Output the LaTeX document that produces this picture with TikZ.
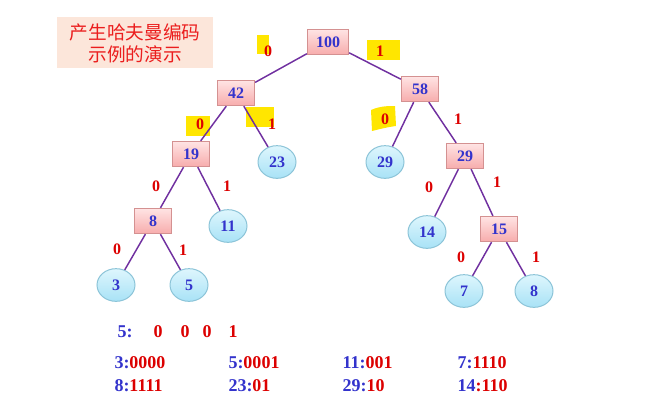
\documentclass[tikz,border=0pt]{standalone}
\usepackage{fontspec}
\setmainfont{Liberation Serif}
\newfontfamily\cjk{Noto Sans CJK SC}
\usetikzlibrary{shapes.geometric}
\definecolor{numblue}{RGB}{51,51,204}
\definecolor{bitred}{RGB}{220,0,0}
\definecolor{titlered}{RGB}{235,30,30}
\definecolor{edgepurple}{RGB}{112,48,160}
\definecolor{hlyellow}{RGB}{255,230,0}
\definecolor{titlebg}{RGB}{252,230,218}
\newcommand{\hcode}[2]{\textcolor{numblue}{#1:}\textcolor{bitred}{#2}}

\tikzset{every picture/.style={line width=0.75pt}}
\tikzset{
  inner/.style={rectangle, draw={rgb,255:red,212;green,145;blue,145}, top color={rgb,255:red,255;green,228;blue,228}, bottom color={rgb,255:red,247;green,172;blue,172}, minimum width=28pt, minimum height=19pt, inner sep=2pt, font=\fontsize{12}{14}\selectfont\bfseries, text=numblue},
  leaf/.style={ellipse, draw={rgb,255:red,140;green,196;blue,216}, top color={rgb,255:red,222;green,246;blue,253}, bottom color={rgb,255:red,168;green,226;blue,246}, minimum width=28.5pt, minimum height=24.5pt, inner sep=1pt, font=\fontsize{12}{14}\selectfont\bfseries, text=numblue},
  bit/.style={inner sep=0.75pt, font=\fontsize{12}{14}\selectfont\bfseries, text=bitred},
  branch/.style={draw=edgepurple, line width=1.1pt},
  hl/.style={fill=hlyellow},
  codeline/.style={anchor=west, inner sep=0pt, font=\fontsize{13.5}{16}\selectfont\bfseries}
}

\begin{document}
\begin{tikzpicture}[x=0.75pt,y=0.75pt,yscale=-1,xscale=1]
\useasboundingbox (0,0) rectangle (648,407);

% Title
\fill[titlebg] (57,17) rectangle (213,68);
\node (title) at (135,43) [align=center, text=titlered, inner sep=0pt, font=\cjk\fontsize{14}{16.5}\selectfont] {产生哈夫曼编码\\示例的演示};

% Highlights
\fill[hl] (257,35) rectangle (269,54);
\fill[hl] (367,40) rectangle (400,60);
\fill[hl] (186,116) rectangle (210,136);
\fill[hl] (246,107) rectangle (274,127);
\fill[hl] (371,110) .. controls (380,106) and (388,106) .. (395,106) -- (396,126) .. controls (388,127) and (380,129) .. (372,131) -- cycle;

% Tree nodes
\node (n100) at (328,42) [inner, minimum width=31pt] {100};
\node (n42) at (236,93) [inner] {42};
\node (n58) at (420,89) [inner] {58};
\node (n19) at (191,154) [inner] {19};
\node (l23) at (277,162) [leaf] {23};
\node (l29) at (385,162) [leaf] {29};
\node (n29) at (465,156) [inner] {29};
\node (n8) at (153,221) [inner] {8};
\node (l11) at (228,226) [leaf] {11};
\node (l14) at (427,232) [leaf] {14};
\node (n15) at (499,229) [inner] {15};
\node (l3) at (116,285) [leaf] {3};
\node (l5) at (189,285) [leaf] {5};
\node (l7) at (464,291) [leaf] {7};
\node (l8) at (534,291) [leaf] {8};

% Branches
\draw[branch] (n100) -- (n42);
\draw[branch] (n100) -- (n58);
\draw[branch] (n42) -- (n19);
\draw[branch] (n42) -- (l23);
\draw[branch] (n58) -- (l29);
\draw[branch] (n58) -- (n29);
\draw[branch] (n19) -- (n8);
\draw[branch] (n19) -- (l11);
\draw[branch] (n29) -- (l14);
\draw[branch] (n29) -- (n15);
\draw[branch] (n8) -- (l3);
\draw[branch] (n8) -- (l5);
\draw[branch] (n15) -- (l7);
\draw[branch] (n15) -- (l8);

% Bit labels
\node (b1) at (268,51) [bit] {0};
\node (b2) at (380,51) [bit] {1};
\node (b3) at (200,124) [bit] {0};
\node (b4) at (272,124) [bit] {1};
\node (b5) at (385,119) [bit] {0};
\node (b6) at (458,119) [bit] {1};
\node (b7) at (156,186) [bit] {0};
\node (b8) at (227,186) [bit] {1};
\node (b9) at (429,187) [bit] {0};
\node (b10) at (497,182) [bit] {1};
\node (b11) at (117,249) [bit] {0};
\node (b12) at (183,250) [bit] {1};
\node (b13) at (461,257) [bit] {0};
\node (b14) at (536,257) [bit] {1};

% Path of 5
\node (p5) at (117,332) [codeline, text=numblue] {5:};
\node (p1) at (158,332) [codeline, anchor=center, text=bitred] {0};
\node (p2) at (185,332) [codeline, anchor=center, text=bitred] {0};
\node (p3) at (207,332) [codeline, anchor=center, text=bitred] {0};
\node (p4) at (233,332) [codeline, anchor=center, text=bitred] {1};

% Code table
\node (c3) at (114,363) [codeline] {\hcode{3}{0000}};
\node (c5) at (228,363) [codeline] {\hcode{5}{0001}};
\node (c11) at (342,363) [codeline] {\hcode{11}{001}};
\node (c7) at (457,363) [codeline] {\hcode{7}{1110}};
\node (c8) at (114,386) [codeline] {\hcode{8}{1111}};
\node (c23) at (228,386) [codeline] {\hcode{23}{01}};
\node (c29) at (342,386) [codeline] {\hcode{29}{10}};
\node (c14) at (457,386) [codeline] {\textcolor{numblue}{14}\textcolor{bitred}{:110}};

\end{tikzpicture}
\end{document}
